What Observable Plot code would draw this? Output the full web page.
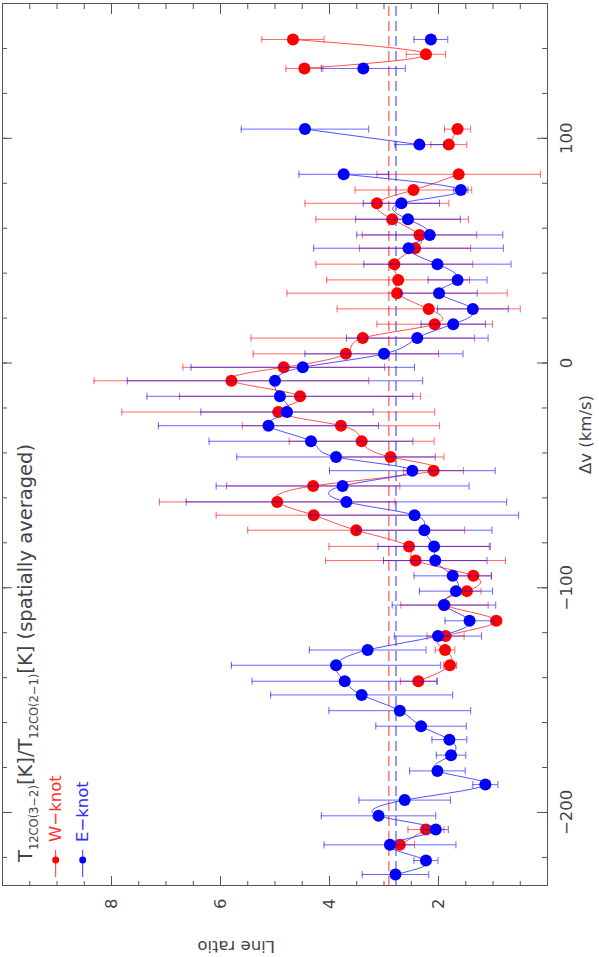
<!DOCTYPE html>
<html><head><meta charset="utf-8">
<script src="https://cdn.jsdelivr.net/npm/d3@7"></script>
<script src="https://cdn.jsdelivr.net/npm/@observablehq/plot@0.6"></script>
<style>
html,body{margin:0;padding:0;background:#fff;}
body{width:599px;height:957px;overflow:hidden;position:relative;}
#rot{position:absolute;left:0;top:957px;width:957px;height:599px;transform-origin:0 0;transform:rotate(-90deg);}
</style></head><body><div id="rot"></div>
<script>
// W-knot (red) : velocity (km/s), line ratio, 1-sigma error
const wVel = [144.0, 137.4, 131.1, 104.1, 97.2, 84.0, 77.0, 71.1, 64.0, 57.0, 51.1, 44.0, 37.0, 31.1, 24.1, 17.3, 11.1, 4.1, -1.9, -7.9, -14.8, -21.8, -27.9, -34.8, -41.8, -47.9, -54.7, -61.8, -67.7, -74.4, -81.6, -87.9, -94.7, -101.5, -107.7, -114.7, -121.5, -127.7, -134.5, -141.6, -207.6, -214.4];
const wRatio = [4.67, 2.23, 4.46, 1.65, 1.81, 1.63, 2.46, 3.13, 2.85, 2.35, 2.43, 2.81, 2.74, 2.76, 2.18, 2.07, 3.39, 3.70, 4.84, 5.80, 4.54, 4.94, 3.79, 3.41, 2.88, 2.09, 4.30, 4.96, 4.29, 3.51, 2.54, 2.42, 1.36, 1.48, 1.89, 0.94, 1.87, 1.88, 1.79, 2.37, 2.23, 2.71];
const wErr = [0.57, 0.36, 0.34, 0.24, 0.33, 1.50, 1.07, 1.32, 1.40, 1.05, 1.02, 1.44, 1.31, 2.02, 1.68, 1.06, 2.05, 1.70, 1.85, 2.52, 2.21, 2.87, 1.81, 1.33, 0.98, 0.55, 1.59, 2.16, 1.79, 1.99, 1.47, 1.65, 0.33, 0.26, 0.80, 0.10, 0.34, 0.18, 0.12, 0.33, 0.33, 0.27];

// E-knot (blue)
const eVel = [144.0, 131.1, 104.1, 97.2, 84.0, 77.0, 71.1, 64.0, 57.0, 51.1, 44.0, 37.0, 31.1, 24.1, 17.3, 11.1, 4.1, -1.9, -7.9, -14.8, -21.8, -27.9, -34.8, -41.8, -47.9, -54.7, -61.8, -67.7, -74.4, -81.6, -87.9, -94.7, -101.5, -107.7, -114.7, -121.5, -127.7, -134.5, -141.6, -147.7, -154.7, -161.6, -167.6, -174.5, -181.5, -187.6, -194.5, -201.5, -207.6, -214.4, -221.4, -227.6];
const eRatio = [2.14, 3.38, 4.45, 2.35, 3.74, 1.59, 2.68, 2.56, 2.16, 2.55, 2.02, 1.65, 1.99, 1.37, 1.73, 2.39, 3.00, 4.49, 5.00, 4.91, 4.78, 5.12, 4.34, 3.88, 2.48, 3.76, 3.69, 2.44, 2.26, 2.08, 2.06, 1.74, 1.68, 1.90, 1.43, 2.01, 3.30, 3.88, 3.72, 3.41, 2.71, 2.32, 1.80, 1.77, 2.02, 1.14, 2.62, 3.10, 2.05, 2.89, 2.23, 2.79];
const eErr = [0.31, 0.77, 1.17, 0.45, 0.82, 0.13, 0.70, 0.96, 1.34, 1.74, 1.35, 0.54, 0.70, 0.65, 0.59, 1.30, 1.45, 2.05, 2.71, 2.44, 1.58, 2.02, 1.87, 1.82, 1.52, 2.32, 2.94, 1.91, 1.24, 1.03, 0.95, 0.71, 0.67, 0.95, 0.45, 0.80, 1.07, 1.92, 1.70, 1.67, 1.30, 0.83, 0.32, 0.27, 0.51, 0.23, 0.84, 1.05, 0.23, 1.21, 0.22, 0.61];

// mean ratios (dashed lines): W, E
const meanRatio = [2.91, 2.78];
const seriesNames = ["W\u2212knot", "E\u2212knot"];
const seriesColors = ["#ff0000", "#0000ff"];
const lineColors = ["#ff3030", "#3030ff"];
const vTickLabels = [-200, -100, 0, 100];
const ratioTickLabels = [2, 4, 6, 8];

function rows(vel, ratio, err, name) {
  let seg = 0;
  return vel.map((v, i) => {
    if (i > 0 && Math.abs(vel[i - 1] - v) > 10) seg++;
    return {v, r: ratio[i], lo: ratio[i] - err[i], hi: ratio[i] + err[i], seg: name + seg};
  });
}
const W = rows(wVel, wRatio, wErr, "W");
const E = rows(eVel, eRatio, eErr, "E");

const capSymbol = {draw(ctx, size) { const w = Math.sqrt(size / Math.PI); ctx.moveTo(-w, 0); ctx.lineTo(w, 0); }};

function seriesMarks(data, k) {
  const c = seriesColors[k];
  return [
    Plot.ruleX(data, {x: "v", y1: "lo", y2: "hi", stroke: c, strokeOpacity: 0.6, strokeWidth: 1}),
    Plot.dot(data, {x: "v", y: "lo", r: 3.6, symbol: capSymbol, fill: "none", stroke: c, strokeOpacity: 0.6, strokeWidth: 1}),
    Plot.dot(data, {x: "v", y: "hi", r: 3.6, symbol: capSymbol, fill: "none", stroke: c, strokeOpacity: 0.6, strokeWidth: 1}),
    Plot.line(data, {x: "v", y: "r", z: "seg", curve: "natural", stroke: lineColors[k], strokeOpacity: 0.85, strokeWidth: 1}),
    Plot.dot(data, {x: "v", y: "r", r: 6, fill: c, stroke: "none"})
  ];
}

const frameC = "#555";
const textC = "#444";
const innerW = 957 - 71 - 4, innerH = 599 - 2 - 52;
const vMinor = d3.range(-220, 161, 20);
const rMinor = d3.range(0.5, 10, 0.5);

const chart = Plot.plot({
  width: 957, height: 599,
  marginLeft: 71, marginRight: 4, marginTop: 2, marginBottom: 52,
  x: {domain: [-232.5, 160], label: null},
  y: {domain: [0, 10], label: null},
  style: {fontFamily: "'DejaVu Sans', sans-serif", fontSize: "16.5px", color: textC, background: "white", overflow: "visible"},
  marks: [
    Plot.ruleY([meanRatio[0]], {stroke: "#ff3030", strokeDasharray: "10,5", strokeWidth: 1}),
    Plot.ruleY([meanRatio[1]], {stroke: "#3030ff", strokeDasharray: "10,5", strokeWidth: 1}),
    ...seriesMarks(W, 0),
    ...seriesMarks(E, 1),
    Plot.frame({stroke: frameC}),
    Plot.ruleX(vMinor, {x: d => d, insetTop: innerH - 5, stroke: frameC}),
    Plot.ruleX(vTickLabels, {x: d => d, insetTop: innerH - 10, stroke: frameC}),
    Plot.ruleX(vMinor, {x: d => d, insetBottom: innerH - 5, stroke: frameC}),
    Plot.ruleX(vTickLabels, {x: d => d, insetBottom: innerH - 10, stroke: frameC}),
    Plot.ruleY(rMinor, {y: d => d, insetRight: innerW - 5, stroke: frameC}),
    Plot.ruleY(ratioTickLabels, {y: d => d, insetRight: innerW - 10, stroke: frameC}),
    Plot.ruleY(rMinor, {y: d => d, insetLeft: innerW - 5, stroke: frameC}),
    Plot.ruleY(ratioTickLabels, {y: d => d, insetLeft: innerW - 10, stroke: frameC}),
    Plot.axisX(vTickLabels, {anchor: "bottom", tickSize: 0, tickPadding: 13, label: null, fill: textC}),
    Plot.axisY(ratioTickLabels, {anchor: "left", tickSize: 0, tickPadding: 13, label: null, fill: textC, tickFormat: d => String(d)}),
    Plot.text(["\u0394v (km/s)"], {text: d => d, frameAnchor: "bottom", dx: 10, dy: 43, fill: textC}),
    Plot.text(["Line ratio"], {text: d => d, frameAnchor: "left", rotate: -90, dx: -61, fill: textC})
  ]
});
document.getElementById("rot").appendChild(chart);

// title with subscripts
const svg = d3.select(chart);
const title = svg.append("text").attr("x", 95).attr("y", 32).attr("font-size", 19.5).attr("fill", textC).attr("text-anchor", "start");
title.append("tspan").text("T");
title.append("tspan").attr("dy", 6).attr("font-size", 11.5).text("12CO(3\u22122)");
title.append("tspan").attr("dy", -6).text("[K]/T");
title.append("tspan").attr("dy", 6).attr("font-size", 11.5).text("12CO(2\u22121)");
title.append("tspan").attr("dy", -6).text("[K] (spatially averaged)");

// legend
[0, 1].forEach(k => {
  const y = 55.7 + 27 * k;
  const g = svg.append("g");
  g.append("line").attr("x1", 80).attr("x2", 107).attr("y1", y).attr("y2", y).attr("stroke", lineColors[k]).attr("stroke-width", 1);
  g.append("circle").attr("cx", 97).attr("cy", y).attr("r", 3.5).attr("fill", seriesColors[k]);
  g.append("text").attr("x", 115).attr("y", y).attr("dy", "0.35em").attr("font-size", 16.5).attr("text-anchor", "start").attr("fill", lineColors[k]).text(seriesNames[k]);
});
</script></body></html>
